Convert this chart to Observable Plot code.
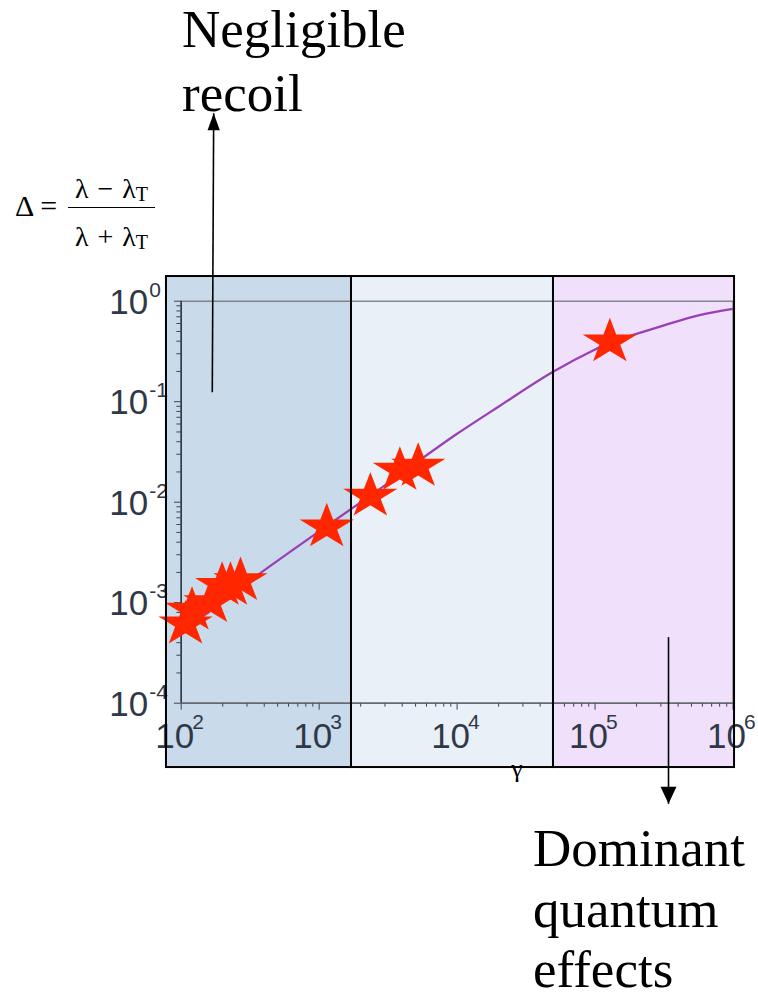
<!DOCTYPE html>
<html>
<head>
<meta charset="utf-8">
<script src="https://cdn.jsdelivr.net/npm/d3@7"></script>
<script src="https://cdn.jsdelivr.net/npm/@observablehq/plot@0.6"></script>
<style>
html, body { margin: 0; padding: 0; background: #fff; overflow: hidden; }
#wrap { position: relative; width: 758px; height: 1003px; }
#chart { position: absolute; left: 0; top: 0; }
.serif { position: absolute; font-family: "Liberation Serif", "Times New Roman", serif; color: #000; white-space: nowrap; }
.frac { text-align: center; width: 87px; left: 68px; font-size: 28px; line-height: 28px; word-spacing: 2px; }
.frac sub { font-size: 20px; vertical-align: -3.4px; line-height: 0; }
</style>
</head>
<body>
<div id="wrap">
  <div id="chart"></div>
  <div class="serif" style="left:182px; top:-3px; font-size:53px; line-height:64px;">Negligible<br>recoil</div>
  <div class="serif" style="left:533px; top:818px; font-size:53px; line-height:60.5px;">Dominant<br>quantum<br>effects</div>
  <div class="serif" style="left:15px; top:191.4px; font-size:30px; line-height:30px;">Δ =</div>
  <div class="serif frac" style="top:174.9px;">λ − λ<sub>T</sub></div>
  <div style="position:absolute; left:68px; top:207px; width:87px; height:1.3px; background:#000;"></div>
  <div class="serif frac" style="top:223.3px;">λ + λ<sub>T</sub></div>
  <div class="serif" style="left:517px; top:756.2px; font-size:26px; line-height:26px; transform:translateX(-50%);">γ</div>
</div>
<script>
// ---- Data ----
const xMajor = [1e2, 1e3, 1e4, 1e5, 1e6];
const xExponents = ["2", "3", "4", "5", "6"];
const yMajor = [1, 1e-1, 1e-2, 1e-3, 1e-4];
const yExponents = ["0", "-1", "-2", "-3", "-4"];
const minorMantissas = [2, 3, 4, 5, 6, 7, 8, 9];
const xDecades = [1e2, 1e3, 1e4, 1e5];
const yDecades = [1e-4, 1e-3, 1e-2, 1e-1];

// shaded regimes (gamma boundaries) and panel extent in Delta
const regionNames = ["negligible recoil", "intermediate", "dominant quantum effects"];
const regionStart = [78.2, 1716, 49970];
const regionEnd = [1716, 49970, 1.026e6];
const regionFills = ["#c9daeb", "#eaf0f8", "#f0e0fc"];
const panelDeltaBottom = 2.29e-5;
const panelDeltaTop = 1.76;

// theory curve Delta(gamma)
const curveGamma = [100, 155, 316, 1000, 3162, 10000, 19950, 50000, 100000, 128800, 199500, 316200, 562300, 1000000];
const curveDelta = [5.37e-4, 7.9e-4, 1.66e-3, 5.13e-3, 0.0155, 0.0479, 0.0891, 0.1995, 0.331, 0.389, 0.473, 0.575, 0.724, 0.839];

// measured points (stars)
const starGamma = [107.5, 119.8, 163, 198, 227.6, 269, 1135, 2350, 3846, 5224, 128000];
const starDelta = [6.14e-4, 8.42e-4, 1.0e-3, 1.49e-3, 1.49e-3, 1.66e-3, 5.69e-3, 0.01148, 0.0208, 0.0228, 0.394];

// annotation arrows (from -> to), in data coordinates
const arrowFromGamma = [168, 340800];
const arrowFromDelta = [0.1243, 4.54e-4];
const arrowToGamma = [172, 340800];
const arrowToDelta = [74, 1.0e-5];
const arrowDir = ["up", "down"];

// ---- Build ----
const regions = regionNames.map((name, i) => ({name, x1: regionStart[i], x2: regionEnd[i]}));
const curve = curveGamma.map((g, i) => ({g, d: curveDelta[i]}));
const stars = starGamma.map((g, i) => ({g, d: starDelta[i]}));
const arrows = arrowFromGamma.map((g, i) => ({x1: g, y1: arrowFromDelta[i], x2: arrowToGamma[i], y2: arrowToDelta[i], dir: arrowDir[i]}));
const xMinor = xDecades.flatMap(d => minorMantissas.map(m => m * d));
const yMinor = yDecades.flatMap(d => minorMantissas.map(m => m * d));

const starSymbol = {
  draw(ctx, size) {
    const R = Math.sqrt(size / Math.PI), sx = 1.19, kr = 0.381966;
    for (let i = 0; i < 10; i++) {
      const a = Math.PI * i / 5, rr = i % 2 ? R * kr : R;
      const x = Math.sin(a) * rr * sx, y = -Math.cos(a) * rr;
      if (i) ctx.lineTo(x, y); else ctx.moveTo(x, y);
    }
    ctx.closePath();
  }
};
function headSymbol(sign, halfW) {
  return {
    draw(ctx, size) {
      const s = Math.sqrt(size / Math.PI);
      ctx.moveTo(0, 0);
      ctx.lineTo(-halfW * s, sign * 2 * s);
      ctx.lineTo(halfW * s, sign * 2 * s);
      ctx.closePath();
    }
  };
}
const headUp = headSymbol(1, 0.72);
const headDown = headSymbol(-1, 0.94);

const tickColor = "#3a4452";
const labelColor = "#2e3847";
const sansNarrow = "'Liberation Sans Narrow', 'Liberation Sans', Arial, sans-serif";

const chart = Plot.plot({
  width: 758,
  height: 1003,
  marginLeft: 180.7,
  marginRight: 25.5,
  marginTop: 300.7,
  marginBottom: 300.3,
  x: {type: "log", domain: [1e2, 1e6]},
  y: {type: "log", domain: [1e-4, 1]},
  color: {domain: regionNames, range: regionFills},
  style: {overflow: "visible", background: "white"},
  marks: [
    Plot.rect(regions, {x1: "x1", x2: "x2", y1: panelDeltaBottom, y2: panelDeltaTop, fill: "name"}),
    Plot.frame({stroke: "#6b6f75", strokeWidth: 1.2}),
    Plot.axisX(xMinor, {anchor: "bottom", tickSize: 4, tickFormat: () => "", stroke: tickColor, label: null}),
    Plot.axisX(xMajor, {anchor: "bottom", tickSize: 7, tickFormat: () => "", stroke: tickColor, label: null}),
    Plot.axisY(yMinor, {anchor: "left", tickSize: 4.3, tickFormat: () => "", stroke: tickColor, label: null}),
    Plot.axisY(yMajor, {anchor: "left", tickSize: 6.7, tickFormat: () => "", stroke: tickColor, label: null}),
    Plot.ruleX([1e2], {stroke: "#2b3646", strokeWidth: 1.5}),
    Plot.ruleY([1e-4], {stroke: "#5a6068", strokeWidth: 1.2}),
    // tick labels 10^n
    Plot.text(xMajor, {x: d => d, frameAnchor: "bottom", text: () => "10", dx: -6.5, dy: 45,
      fontSize: 35, fontFamily: sansNarrow, fill: labelColor}),
    Plot.text(xMajor, {x: d => d, frameAnchor: "bottom", text: (d, i) => xExponents[i], textAnchor: "start",
      lineAnchor: "bottom", dx: 11, dy: 26, fontSize: 21, fontFamily: sansNarrow, fill: labelColor}),
    Plot.text(yMajor, {y: d => d, frameAnchor: "left", text: () => "10", textAnchor: "end", dx: -33, dy: 1.3,
      fontSize: 35, fontFamily: sansNarrow, fill: labelColor}),
    Plot.text(yMajor, {y: d => d, frameAnchor: "left", text: (d, i) => yExponents[i], textAnchor: "start",
      lineAnchor: "bottom", dx: -32, dy: -4.5, fontSize: 21, fontFamily: sansNarrow, fill: labelColor}),
    // theory curve
    Plot.line(curve, {x: "g", y: "d", stroke: "#9a3fb6", strokeWidth: 2.3, curve: "monotone-x"}),
    // data stars
    Plot.dot(stars, {x: "g", y: "d", r: 24, symbol: starSymbol, fill: "#ff2600", stroke: "none"}),
    // regime borders on top
    Plot.rect(regions, {x1: "x1", x2: "x2", y1: panelDeltaBottom, y2: panelDeltaTop, fill: "none", stroke: "#000", strokeWidth: 2}),
    // annotation arrows
    Plot.link(arrows, {x1: "x1", y1: "y1", x2: "x2", y2: "y2", stroke: "#000", strokeWidth: 1.6}),
    Plot.dot(arrows.filter(a => a.dir === "up"), {x: "x2", y: "y2", r: 8.5, symbol: headUp, fill: "#000", stroke: "none"}),
    Plot.dot(arrows.filter(a => a.dir === "down"), {x: "x2", y: "y2", r: 8.5, symbol: headDown, fill: "#000", stroke: "none"})
  ]
});
document.getElementById("chart").appendChild(chart);
</script>
</body>
</html>
